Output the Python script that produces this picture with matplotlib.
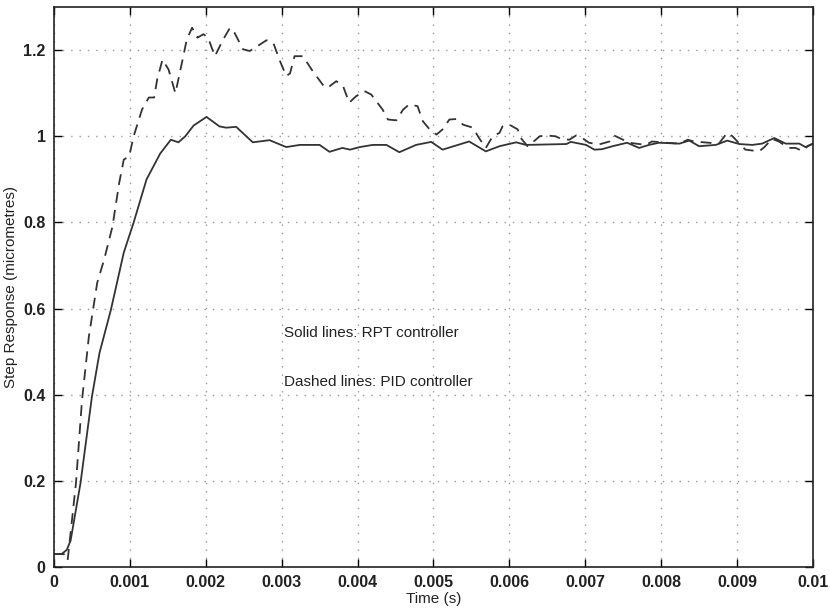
import matplotlib.pyplot as plt

plt.rcParams['font.family'] = ['Liberation Sans', 'DejaVu Sans']

# RPT controller (solid line)
t_rpt = [0, 0.0001, 0.00017, 0.00022, 0.00035, 0.0005, 0.0006, 0.00075, 0.00092,
         0.00105, 0.00122, 0.0014, 0.00154, 0.00164, 0.00173, 0.00184, 0.00201,
         0.00218, 0.00227, 0.0024, 0.00262, 0.00284, 0.00306, 0.00324, 0.0035,
         0.00363, 0.0038, 0.0039, 0.00403, 0.0042, 0.00438, 0.00455, 0.00477,
         0.00497, 0.00512, 0.00547, 0.00569, 0.00587, 0.00609, 0.00622, 0.00675,
         0.00681, 0.00701, 0.00712, 0.00722, 0.00736, 0.00755, 0.00771, 0.00784,
         0.00797, 0.00824, 0.00837, 0.0085, 0.00872, 0.00887, 0.00903, 0.0092,
         0.00933, 0.00949, 0.00964, 0.00982, 0.0099, 0.01]
y_rpt = [0.03, 0.03, 0.04, 0.062, 0.195, 0.395, 0.497, 0.597, 0.73,
         0.80, 0.90, 0.96, 0.992, 0.986, 1.0, 1.025, 1.045,
         1.023, 1.02, 1.022, 0.986, 0.991, 0.975, 0.98, 0.98,
         0.964, 0.973, 0.969, 0.975, 0.98, 0.98, 0.963, 0.98,
         0.987, 0.969, 0.988, 0.965, 0.977, 0.986, 0.98, 0.982,
         0.987, 0.98, 0.969, 0.97, 0.977, 0.985, 0.973, 0.98,
         0.985, 0.983, 0.99, 0.977, 0.98, 0.99, 0.982, 0.98,
         0.983, 0.996, 0.983, 0.983, 0.975, 0.983]

# PID controller (dashed line)
t_pid = [0, 0.00013, 0.00018, 0.00029, 0.00037, 0.00046, 0.00057, 0.00066, 0.00077,
         0.00086, 0.00092, 0.00099, 0.00105, 0.00116, 0.00125, 0.00132, 0.00136,
         0.00143, 0.00151, 0.0016, 0.00169, 0.00175, 0.00182, 0.00189, 0.00197,
         0.00203, 0.00212, 0.00223, 0.00232, 0.00238, 0.00249, 0.00258, 0.00267,
         0.0028, 0.00289, 0.00297, 0.00306, 0.00311, 0.00317, 0.00328, 0.00341,
         0.00357, 0.00363, 0.00372, 0.00381, 0.00389, 0.00398, 0.00409, 0.00418,
         0.00433, 0.0044, 0.00451, 0.0046, 0.00468, 0.00479, 0.00486, 0.00495,
         0.00504, 0.00512, 0.00521, 0.0053, 0.00539, 0.00552, 0.0056, 0.00569,
         0.00578, 0.00587, 0.00591, 0.006, 0.00611, 0.00615, 0.00624, 0.0063,
         0.0064, 0.00648, 0.00661, 0.00668, 0.00679, 0.00688, 0.00696, 0.00705,
         0.00718, 0.00732, 0.00738, 0.00745, 0.00758, 0.0078, 0.00788, 0.00806,
         0.00824, 0.00835, 0.00843, 0.00876, 0.00887, 0.00894, 0.00903, 0.00911,
         0.00929, 0.00936, 0.00946, 0.00955, 0.00968, 0.00977, 0.00986, 0.00993, 0.01]
y_pid = [0.03, 0.03, 0.015, 0.195, 0.388, 0.535, 0.66, 0.713, 0.79,
         0.892, 0.946, 0.953, 1.0, 1.062, 1.09, 1.09, 1.132,
         1.178, 1.155, 1.10, 1.174, 1.225, 1.252, 1.229, 1.237,
         1.229, 1.186, 1.225, 1.252, 1.24, 1.202, 1.198, 1.208,
         1.223, 1.217, 1.178, 1.14, 1.146, 1.186, 1.186, 1.151,
         1.113, 1.116, 1.128, 1.116, 1.078, 1.093, 1.105, 1.097,
         1.062, 1.039, 1.037, 1.062, 1.074, 1.07, 1.035, 1.016,
         1.004, 1.016, 1.039, 1.04, 1.027, 1.02, 0.996, 0.973,
         1.0, 1.008, 1.023, 1.027, 1.016, 0.996, 0.977, 0.985,
         1.0, 1.002, 1.0, 0.994, 0.992, 1.002, 0.996, 0.985,
         0.981, 0.988, 1.002, 0.996, 0.985, 0.98, 0.988, 0.985,
         0.983, 0.992, 0.988, 0.983, 1.008, 1.0, 0.983, 0.969,
         0.965, 0.975, 0.994, 0.988, 0.973, 0.973, 0.966, 0.977, 0.983]

x_ticks = [0, 0.001, 0.002, 0.003, 0.004, 0.005, 0.006, 0.007, 0.008, 0.009, 0.01]
x_labels = ['0', '0.001', '0.002', '0.003', '0.004', '0.005', '0.006', '0.007',
            '0.008', '0.009', '0.01']
y_ticks = [0, 0.2, 0.4, 0.6, 0.8, 1.0, 1.2]
y_labels = ['0', '0.2', '0.4', '0.6', '0.8', '1', '1.2']

fig = plt.figure(figsize=(8.3, 6.15), dpi=100)
ax = fig.add_axes([0.065, 0.078, 0.9145, 0.9105])

ax.plot(t_rpt, y_rpt, color='#333333', linewidth=1.3, linestyle='-')
ax.plot(t_pid, y_pid, color='#333333', linewidth=1.3, linestyle=(0, (6, 4)))

ax.set_xlim(0, 0.01)
ax.set_ylim(0, 1.3)
ax.set_xticks(x_ticks)
ax.set_xticklabels(x_labels)
ax.set_yticks(y_ticks)
ax.set_yticklabels(y_labels)
ax.tick_params(direction='in', top=True, right=True, length=6, width=1,
               labelsize=11.5, pad=6)
for lab in ax.get_xticklabels() + ax.get_yticklabels():
    lab.set_fontweight('bold')
    lab.set_color('#222222')

# grille pointillée légère, style MATLAB
ax.grid(True, linestyle=(0, (1, 5)), color='#999999', linewidth=1)
for sp in ax.spines.values():
    sp.set_linewidth(1.2)
    sp.set_color('#222222')

ax.set_xlabel('Time (s)', fontsize=11, labelpad=1, color='#222222')
ax.set_ylabel('Step Response (micrometres)', fontsize=11, labelpad=4, color='#222222')

ax.text(0.00303, 0.543, 'Solid lines: RPT controller', fontsize=11,
        va='center', color='#222222')
ax.text(0.00303, 0.43, 'Dashed lines: PID controller', fontsize=11,
        va='center', color='#222222')

fig.savefig('out.png', dpi=100)
